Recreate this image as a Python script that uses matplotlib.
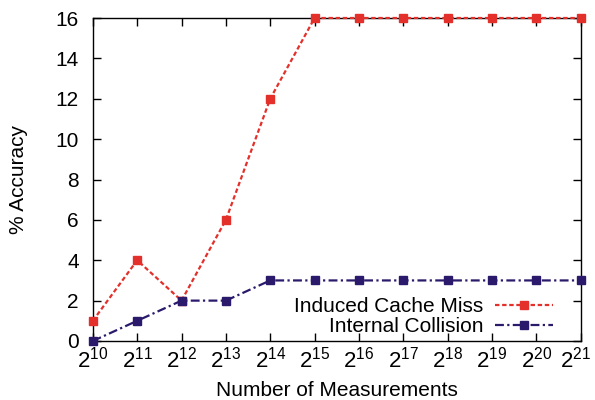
import numpy as np
import matplotlib
matplotlib.use("Agg")
import matplotlib.pyplot as plt
import matplotlib.transforms as mtransforms

plt.rcParams['font.family'] = ['Liberation Sans', 'DejaVu Sans']

exponents = [10, 11, 12, 13, 14, 15, 16, 17, 18, 19, 20, 21]
induced_miss = [1, 4, 2, 6, 12, 16, 16, 16, 16, 16, 16, 16]
internal_coll = [0, 1, 2, 2, 3, 3, 3, 3, 3, 3, 3, 3]
y_ticks = [0, 2, 4, 6, 8, 10, 12, 14, 16]

fig = plt.figure(figsize=(5.95, 4.0), dpi=100)
ax = fig.add_axes([0.156, 0.1475, 0.82, 0.8075])

ax.plot(exponents, induced_miss, color='#e3302a', linestyle=(0, (2, 1.2)), linewidth=1.6,
        marker='s', markersize=6, label='Induced Cache Miss', clip_on=False, zorder=3)
ax.plot(exponents, internal_coll, color='#2b1a6b', linestyle=(0, (4, 1.5, 1, 1.5)), linewidth=1.6,
        marker='s', markersize=6, label='Internal Collision', clip_on=False, zorder=3)

ax.set_xlim(10, 21)
ax.set_ylim(0, 16)
ax.set_xticks(exponents)
ax.set_xticklabels([f'$\\mathregular{{2^{{{e}}}}}$' for e in exponents])
ax.set_yticks(y_ticks)
ax.tick_params(direction='in', top=True, right=True, length=6, width=1)
ax.tick_params(axis='y', labelsize=15, pad=10)
ax.tick_params(axis='x', labelsize=16, pad=4)
for s in ax.spines.values():
    s.set_linewidth(1)

# keep the last label inside the figure
last = ax.get_xticklabels()[-1]
last.set_transform(last.get_transform() + mtransforms.ScaledTranslation(-4 / 72, 0, fig.dpi_scale_trans))

ax.set_xlabel('Number of Measurements', fontsize=15, labelpad=6)
ax.set_ylabel('% Accuracy', fontsize=15, labelpad=20)

ax.legend(loc='lower right', bbox_to_anchor=(0.943, 0.015), frameon=False, markerfirst=False,
          fontsize=15, handlelength=2.8, labelspacing=0.06, borderpad=0.0,
          borderaxespad=0.0, handletextpad=0.55)

fig.savefig('out.png', dpi=100)
